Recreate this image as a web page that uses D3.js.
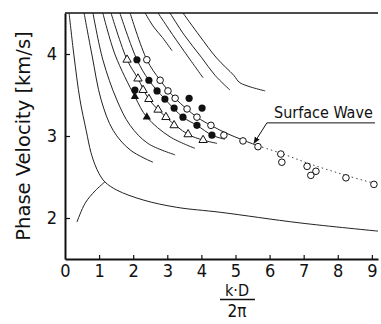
<!DOCTYPE html>
<html>
<head>
<meta charset="utf-8">
<script src="https://cdn.jsdelivr.net/npm/d3@7"></script>
<style>
  body { margin: 0; background: #fff; }
  text { font-family: "DejaVu Sans Condensed", "DejaVu Sans", sans-serif; fill: #111; }
</style>
</head>
<body>
<svg id="chart" width="381" height="324"></svg>
<script>
const xTicks = [0, 1, 2, 3, 4, 5, 6, 7, 8, 9];
const yTicks = [2, 3, 4];

// dispersion curves, [k*D/2pi, phase velocity]
const mode1 = [[0.12, 4.5], [0.26, 3.99], [0.44, 3.44], [0.62, 3.07], [0.76, 2.80], [0.88, 2.65], [1.0, 2.54], [1.17, 2.44],
               [1.52, 2.34], [2.29, 2.22], [3.28, 2.13], [4.55, 2.07], [6.89, 1.94], [9.18, 1.84]];
const mode1Branch = [[0.35, 1.95], [0.59, 2.18], [0.88, 2.33], [1.17, 2.44]];
const mode2 = [[0.56, 4.5], [0.79, 3.99], [1.06, 3.44], [1.41, 3.07], [1.91, 2.83], [2.58, 2.68]];
const mode3 = [[0.82, 4.5], [1.11, 3.93], [1.52, 3.44], [1.91, 3.13], [2.43, 2.91], [3.23, 2.77]];
const mode4 = [[1.11, 4.5], [1.47, 3.99], [2.05, 3.48], [2.40, 3.23], [3.08, 2.99], [3.81, 2.85]];
const mode5 = [[1.35, 4.5], [1.82, 3.93], [2.14, 3.70], [2.46, 3.45], [2.96, 3.23], [3.61, 3.02], [4.05, 2.95], [4.46, 2.91]];
const mode6 = [[1.61, 4.5], [2.11, 3.93], [2.46, 3.68], [2.93, 3.45], [3.46, 3.23], [3.87, 3.13], [4.31, 3.01], [4.69, 2.96]];
const surfaceSolid = [[1.91, 4.5], [2.40, 3.93], [2.79, 3.68], [3.23, 3.46], [3.87, 3.23], [4.28, 3.13], [4.7, 3.04], [5.22, 2.95], [5.66, 2.88]];
const surfaceDotted = [[5.66, 2.88], [6.33, 2.79], [7.18, 2.66], [8.24, 2.52], [9.18, 2.41]];
const mode8 = [[2.35, 4.5], [2.6, 4.33], [2.86, 4.2], [3.14, 4.04]];
const mode9 = [[2.73, 4.5], [3.05, 4.3], [3.5, 4.03], [4.05, 3.71]];
const mode10 = [[3.08, 4.5], [3.5, 4.23], [4.0, 3.96], [4.4, 3.74], [4.84, 3.56]];
const mode11 = [[3.46, 4.5], [3.95, 4.22], [4.45, 3.95], [4.95, 3.74], [5.13, 3.65], [5.87, 3.55]];

// measured points
const openTriangles = [[1.82, 3.93], [2.14, 3.70], [2.29, 3.56], [2.46, 3.45], [2.73, 3.32], [2.96, 3.23], [3.20, 3.13], [3.61, 3.02], [4.05, 2.95]];
const filledTriangles = [[2.05, 3.48], [2.40, 3.23]];
const filledCircles = [[2.11, 3.93], [2.46, 3.68], [2.05, 3.56], [2.70, 3.55], [2.93, 3.45], [3.20, 3.34], [3.46, 3.23],
                       [3.87, 3.13], [4.31, 3.01], [3.64, 3.46], [4.02, 3.34]];
const openCircles = [[2.40, 3.93], [2.79, 3.68], [3.02, 3.55], [3.23, 3.46], [3.58, 3.33], [3.87, 3.23], [4.28, 3.13], [4.66, 3.01],
                     [5.22, 2.94], [5.66, 2.87], [6.33, 2.78], [6.36, 2.68], [7.10, 2.63], [7.36, 2.57], [7.21, 2.52], [8.24, 2.49], [9.06, 2.41]];

const svg = d3.select("#chart");

const x = d3.scaleLinear().domain([0, 9.18]).range([65, 378]);
const y = d3.scaleLinear().domain([1.5, 4.5]).range([259, 13]);

const line = d3.line()
    .x(d => x(d[0]))
    .y(d => y(d[1]))
    .curve(d3.curveCatmullRom.alpha(0.5));

const curves = [mode1, mode1Branch, mode2, mode3, mode4, mode5, mode6, surfaceSolid, mode8, mode9, mode10, mode11];

svg.selectAll(".curve")
    .data(curves)
    .enter().append("path")
    .attr("class", "curve")
    .attr("d", line)
    .attr("fill", "none")
    .attr("stroke", "#222")
    .attr("stroke-width", 1);

svg.append("path")
    .attr("d", line(surfaceDotted))
    .attr("fill", "none")
    .attr("stroke", "#444")
    .attr("stroke-width", 1)
    .attr("stroke-dasharray", "1.5,3");

// axes
const xAxis = svg.append("g")
    .attr("transform", "translate(0," + y(1.5) + ")")
    .call(d3.axisBottom(x).tickValues(xTicks).tickFormat(d3.format("d"))
        .tickSizeInner(-4).tickSizeOuter(0).tickPadding(5));

const yAxis = svg.append("g")
    .attr("transform", "translate(" + x(0) + ",0)")
    .call(d3.axisLeft(y).tickValues(yTicks).tickFormat(d3.format("d"))
        .tickSizeInner(-5).tickSizeOuter(0).tickPadding(8));

[xAxis, yAxis].forEach(g => {
    g.select(".domain").attr("stroke", "#111").attr("stroke-width", 2);
    g.selectAll(".tick line").attr("stroke", "#111").attr("stroke-width", 1.2);
    g.selectAll(".tick text").style("font-size", "18px").attr("fill", "#111");
});
xAxis.selectAll(".tick").filter(d => d === 0).select("line").remove();

// top frame line
svg.append("line")
    .attr("x1", x(0)).attr("x2", x(9.18))
    .attr("y1", y(4.5)).attr("y2", y(4.5))
    .attr("stroke", "#111")
    .attr("stroke-width", 1.5);

// markers
const tri = d3.symbol().type(d3.symbolTriangle).size(30);

svg.selectAll(".otri")
    .data(openTriangles)
    .enter().append("path")
    .attr("d", tri)
    .attr("transform", d => "translate(" + x(d[0]) + "," + y(d[1]) + ")")
    .attr("fill", "#fff")
    .attr("stroke", "#111")
    .attr("stroke-width", 1);

svg.selectAll(".ftri")
    .data(filledTriangles)
    .enter().append("path")
    .attr("d", tri)
    .attr("transform", d => "translate(" + x(d[0]) + "," + y(d[1]) + ")")
    .attr("fill", "#111");

svg.selectAll(".fcirc")
    .data(filledCircles)
    .enter().append("circle")
    .attr("cx", d => x(d[0]))
    .attr("cy", d => y(d[1]))
    .attr("r", 3.6)
    .attr("fill", "#111");

svg.selectAll(".ocirc")
    .data(openCircles)
    .enter().append("circle")
    .attr("cx", d => x(d[0]))
    .attr("cy", d => y(d[1]))
    .attr("r", 3.3)
    .attr("fill", "#fff")
    .attr("stroke", "#111")
    .attr("stroke-width", 1);

// "Surface Wave" annotation
svg.append("defs").append("marker")
    .attr("id", "arrow")
    .attr("viewBox", "0 0 10 10")
    .attr("refX", 9).attr("refY", 5)
    .attr("markerWidth", 7).attr("markerHeight", 7)
    .attr("orient", "auto")
    .append("path")
    .attr("d", "M0,1L10,5L0,9Z")
    .attr("fill", "#111");

svg.append("path")
    .attr("d", d3.line()([[x(9.09), y(3.16)], [x(5.92), y(3.16)], [x(5.54), y(2.91)]]))
    .attr("fill", "none")
    .attr("stroke", "#111")
    .attr("stroke-width", 1)
    .attr("marker-end", "url(#arrow)");

svg.append("text")
    .attr("x", x(6.13))
    .attr("y", y(3.22))
    .style("font-size", "16px")
    .text("Surface Wave");

// axis titles
svg.append("text")
    .attr("transform", "translate(30," + y(3.0) + ") rotate(-90)")
    .attr("text-anchor", "middle")
    .style("font-family", "'DejaVu Sans', sans-serif")
    .style("font-size", "19.5px")
    .text("Phase Velocity [km/s]");

svg.append("text")
    .attr("x", 237).attr("y", 296)
    .attr("text-anchor", "middle")
    .style("font-size", "16px")
    .text("k·D");

svg.append("line")
    .attr("x1", 220).attr("x2", 255)
    .attr("y1", 299.5).attr("y2", 299.5)
    .attr("stroke", "#111")
    .attr("stroke-width", 1.3);

svg.append("text")
    .attr("x", 237).attr("y", 317)
    .attr("text-anchor", "middle")
    .style("font-size", "17px")
    .text("2π");
</script>
</body>
</html>
